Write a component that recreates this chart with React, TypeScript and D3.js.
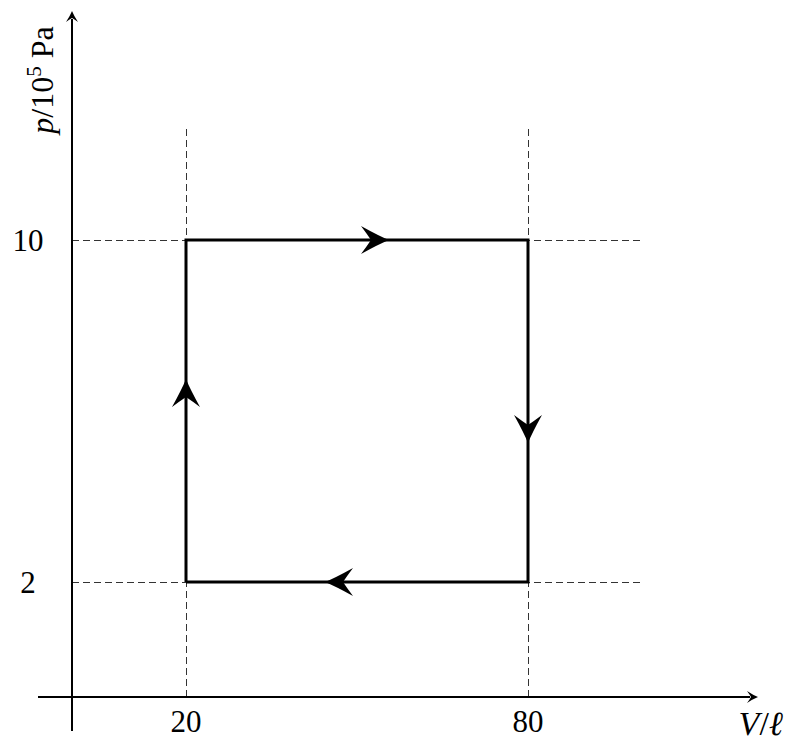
import React from 'react';
import * as d3 from 'd3';

// cycle corners (V in litres, p in 1e5 Pa), traversed clockwise
const cycleV = [20, 20, 80, 80];
const cycleP = [2, 10, 10, 2];
const xTicks = [20, 80];
const yTicks = [2, 10];

const W = 795;
const H = 751;
const FONT = '"Liberation Serif", "DejaVu Serif", serif';

const x = d3.scaleLinear().domain([0, 80]).range([72, 528]);
const y = d3.scaleLinear().domain([2, 10]).range([582, 240]);

const axisY = 697; // pixel row of the V axis
const axisX = x(0);

// stealth style head pointing along +x, tip at origin
const headPath = 'M0,0 Q-10,-4 -28,-14 Q-22,-6 -18,0 Q-22,6 -28,14 Q-10,4 0,0 Z';
const smallHead = 'M0,0 Q-5,-2 -11,-6 Q-8,-2 -7,0 Q-8,2 -11,6 Q-5,2 0,0 Z';

const App: React.FC = () => {
  const pts = cycleV.map((v, i) => [x(v), y(cycleP[i])] as [number, number]);
  const line = d3.line()(pts.concat([pts[0]]));

  // arrows at edge midpoints, shifted forward so the tip sits past the middle
  const arrows = pts.map((a, i) => {
    const b = pts[(i + 1) % pts.length];
    const ang = Math.atan2(b[1] - a[1], b[0] - a[0]);
    const mx = (a[0] + b[0]) / 2 + Math.cos(ang) * 32;
    const my = (a[1] + b[1]) / 2 + Math.sin(ang) * 32;
    return { mx, my, deg: (ang * 180) / Math.PI };
  });

  return (
    <svg width={W} height={H} style={{ display: 'block', position: 'absolute', left: 0, top: 0, background: '#fff' }}>
      {/* dashed guides, half-pixel offset keeps them crisp */}
      <g stroke="#333" strokeWidth={1} strokeDasharray="7,4" fill="none">
        {xTicks.map(v => (
          <line key={'vx' + v} x1={x(v) + 0.5} x2={x(v) + 0.5} y1={axisY} y2={128} />
        ))}
        {yTicks.map(p => (
          <line key={'hy' + p} x1={axisX} x2={642} y1={y(p) + 0.5} y2={y(p) + 0.5} />
        ))}
      </g>

      {/* axes */}
      <g stroke="#000" strokeWidth={2}>
        <line x1={38} x2={750} y1={axisY} y2={axisY} />
        <line x1={axisX} x2={axisX} y1={731} y2={19} />
      </g>
      <path d={smallHead} transform={`translate(758,${axisY})`} fill="#000" />
      <path d={smallHead} transform={`translate(${axisX},11) rotate(-90)`} fill="#000" />

      {/* cycle */}
      <path d={line ?? ''} fill="none" stroke="#000" strokeWidth={3} strokeLinejoin="miter" />
      {arrows.map((a, i) => (
        <path key={i} d={headPath} transform={`translate(${a.mx},${a.my}) rotate(${a.deg})`} fill="#000" />
      ))}

      {/* tick labels */}
      <g fontFamily={FONT} fontSize={31} fill="#000">
        {xTicks.map(v => (
          <text key={'tx' + v} x={x(v)} y={732} textAnchor="middle">{v}</text>
        ))}
        {yTicks.map(p => (
          <text key={'ty' + p} x={28} y={y(p) + 11} textAnchor="middle">{p}</text>
        ))}
      </g>

      {/* axis titles */}
      <text x={783} y={735} textAnchor="end" fontFamily={FONT} fontSize={34} fill="#000">
        <tspan fontStyle="italic">V</tspan>/<tspan fontStyle="italic">ℓ</tspan>
      </text>
      <text transform="translate(53,80) rotate(-90)" textAnchor="middle" fontFamily={FONT} fontSize={32} fill="#000">
        <tspan fontStyle="italic">p</tspan>/10<tspan fontSize={21} dy={-12}>5</tspan>
        <tspan dy={12}> Pa</tspan>
      </text>
    </svg>
  );
};

export default App;
